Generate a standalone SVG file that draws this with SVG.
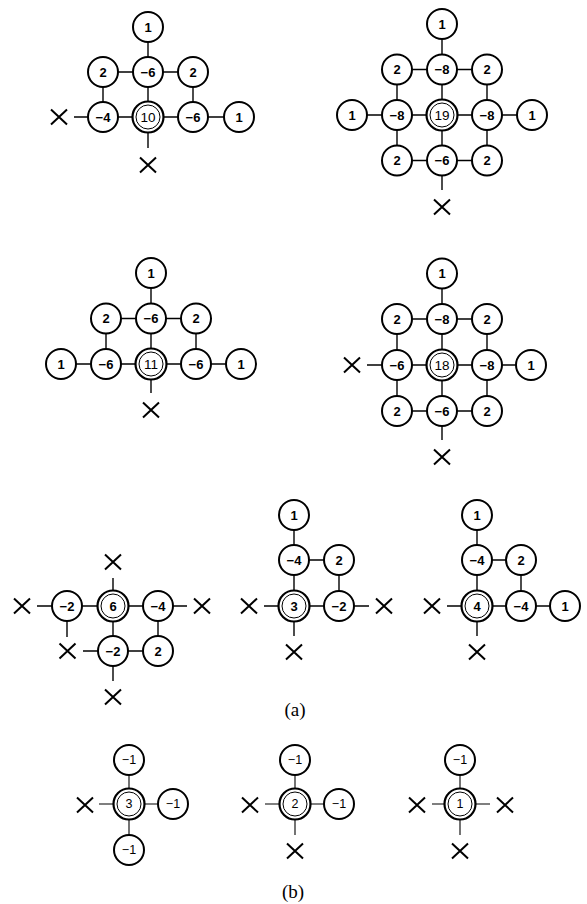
<svg xmlns="http://www.w3.org/2000/svg" xmlns:xlink="http://www.w3.org/1999/xlink" width="587" height="904" viewBox="0 0 587 904">
<style>
.e line{stroke:#000;stroke-width:1.4;fill:none}
.eb line{stroke:#000;stroke-width:1.1;fill:none}
circle.n{fill:#fff;stroke:#000;stroke-width:2}
circle.o{fill:#fff;stroke:#000;stroke-width:2.2}
circle.i{fill:none;stroke:#000;stroke-width:1}
.x{stroke:#000;stroke-width:2;fill:none}
text{font-family:"Liberation Sans",Arial,sans-serif;font-size:13px;font-weight:bold;text-anchor:middle;dominant-baseline:central;fill:#000}
text.c{font-weight:normal;font-size:13.5px}
text.b{font-size:12.5px;font-weight:normal}
text.cap{font-family:"Liberation Serif","Times New Roman",serif;font-size:19px;font-weight:normal}
</style>
<defs>
<path id="xm" class="x" d="M-8,-7.5L8,7.5M-8,7.5L8,-7.5"/>
</defs>
<g id="connectors">
<g class="e">
<!-- A1 -->
<line x1="148" y1="27" x2="148" y2="148"/>
<line x1="103" y1="72" x2="193" y2="72"/>
<line x1="103" y1="72" x2="103" y2="117"/>
<line x1="193" y1="72" x2="193" y2="117"/>
<line x1="74" y1="117" x2="239" y2="117"/>
<!-- A2 -->
<line x1="442" y1="24" x2="442" y2="190"/>
<line x1="397" y1="69.5" x2="487" y2="69.5"/>
<line x1="397" y1="69.5" x2="397" y2="160.5"/>
<line x1="487" y1="69.5" x2="487" y2="160.5"/>
<line x1="352" y1="115" x2="532" y2="115"/>
<line x1="397" y1="160.5" x2="487" y2="160.5"/>
<!-- A3 -->
<line x1="151" y1="273" x2="151" y2="393"/>
<line x1="106" y1="318.5" x2="196" y2="318.5"/>
<line x1="106" y1="318.5" x2="106" y2="364"/>
<line x1="196" y1="318.5" x2="196" y2="364"/>
<line x1="61" y1="364" x2="241" y2="364"/>
<!-- A4 -->
<line x1="442" y1="273.5" x2="442" y2="440"/>
<line x1="397" y1="319" x2="487" y2="319"/>
<line x1="397" y1="319" x2="397" y2="411"/>
<line x1="487" y1="319" x2="487" y2="411"/>
<line x1="367" y1="365" x2="531" y2="365"/>
<line x1="397" y1="411" x2="487" y2="411"/>
<!-- A5 -->
<line x1="113" y1="578" x2="113" y2="681"/>
<line x1="37" y1="606" x2="187" y2="606"/>
<line x1="67" y1="606" x2="67" y2="637"/>
<line x1="83" y1="651" x2="158" y2="651"/>
<line x1="158" y1="606" x2="158" y2="651"/>
<!-- A6 -->
<line x1="294" y1="515" x2="294" y2="636"/>
<line x1="294" y1="560" x2="339" y2="560"/>
<line x1="339" y1="560" x2="339" y2="606"/>
<line x1="264" y1="606" x2="369" y2="606"/>
<!-- A7 -->
<line x1="477" y1="515" x2="477" y2="636"/>
<line x1="477" y1="560" x2="521" y2="560"/>
<line x1="521" y1="560" x2="521" y2="606"/>
<line x1="447" y1="606" x2="565" y2="606"/>
</g>
<g class="eb">
<!-- B1 -->
<line x1="129" y1="760" x2="129" y2="850"/>
<line x1="99" y1="804" x2="173" y2="804"/>
<!-- B2 -->
<line x1="295" y1="760" x2="295" y2="835"/>
<line x1="265" y1="804" x2="339" y2="804"/>
<!-- B3 -->
<line x1="460" y1="760" x2="460" y2="835"/>
<line x1="432" y1="804" x2="490" y2="804"/>
</g>
</g>

<!-- Diagram A1 -->
<g id="a1">
<g id="a1-n1"><circle class="n" cx="148" cy="27" r="15"/><text x="148" y="27">1</text></g>
<g id="a1-n2"><circle class="n" cx="103" cy="72" r="15"/><text x="103" y="72">2</text></g>
<g id="a1-n3"><circle class="n" cx="148" cy="72" r="15"/><text x="148" y="72">−6</text></g>
<g id="a1-n4"><circle class="n" cx="193" cy="72" r="15"/><text x="193" y="72">2</text></g>
<g id="a1-x1"><use xlink:href="#xm" x="59" y="117"/></g>
<g id="a1-n5"><circle class="n" cx="103" cy="117" r="15"/><text x="103" y="117">−4</text></g>
<g id="a1-c"><circle class="o" cx="148" cy="117" r="15.5"/><circle class="i" cx="148" cy="117" r="12"/><text class="c" x="148" y="117">10</text></g>
<g id="a1-n6"><circle class="n" cx="193" cy="117" r="15"/><text x="193" y="117">−6</text></g>
<g id="a1-n7"><circle class="n" cx="239" cy="117" r="15"/><text x="239" y="117">1</text></g>
<g id="a1-x2"><use xlink:href="#xm" x="148" y="165"/></g>
</g>

<!-- Diagram A2 -->
<g id="a2">
<g id="a2-n1"><circle class="n" cx="442" cy="24" r="15"/><text x="442" y="24">1</text></g>
<g id="a2-n2"><circle class="n" cx="397" cy="69.5" r="15"/><text x="397" y="69.5">2</text></g>
<g id="a2-n3"><circle class="n" cx="442" cy="69.5" r="15"/><text x="442" y="69.5">−8</text></g>
<g id="a2-n4"><circle class="n" cx="487" cy="69.5" r="15"/><text x="487" y="69.5">2</text></g>
<g id="a2-n5"><circle class="n" cx="352" cy="115" r="15"/><text x="352" y="115">1</text></g>
<g id="a2-n6"><circle class="n" cx="397" cy="115" r="15"/><text x="397" y="115">−8</text></g>
<g id="a2-c"><circle class="o" cx="442" cy="115" r="15.5"/><circle class="i" cx="442" cy="115" r="12"/><text class="c" x="442" y="115">19</text></g>
<g id="a2-n7"><circle class="n" cx="487" cy="115" r="15"/><text x="487" y="115">−8</text></g>
<g id="a2-n8"><circle class="n" cx="532" cy="115" r="15"/><text x="532" y="115">1</text></g>
<g id="a2-n9"><circle class="n" cx="397" cy="160.5" r="15"/><text x="397" y="160.5">2</text></g>
<g id="a2-n10"><circle class="n" cx="442" cy="160.5" r="15"/><text x="442" y="160.5">−6</text></g>
<g id="a2-n11"><circle class="n" cx="487" cy="160.5" r="15"/><text x="487" y="160.5">2</text></g>
<g id="a2-x1"><use xlink:href="#xm" x="442" y="207"/></g>
</g>

<!-- Diagram A3 -->
<g id="a3">
<g id="a3-n1"><circle class="n" cx="151" cy="273" r="15"/><text x="151" y="273">1</text></g>
<g id="a3-n2"><circle class="n" cx="106" cy="318.5" r="15"/><text x="106" y="318.5">2</text></g>
<g id="a3-n3"><circle class="n" cx="151" cy="318.5" r="15"/><text x="151" y="318.5">−6</text></g>
<g id="a3-n4"><circle class="n" cx="196" cy="318.5" r="15"/><text x="196" y="318.5">2</text></g>
<g id="a3-n5"><circle class="n" cx="61" cy="364" r="15"/><text x="61" y="364">1</text></g>
<g id="a3-n6"><circle class="n" cx="106" cy="364" r="15"/><text x="106" y="364">−6</text></g>
<g id="a3-c"><circle class="o" cx="151" cy="364" r="15.5"/><circle class="i" cx="151" cy="364" r="12"/><text class="c" x="151" y="364">11</text></g>
<g id="a3-n7"><circle class="n" cx="196" cy="364" r="15"/><text x="196" y="364">−6</text></g>
<g id="a3-n8"><circle class="n" cx="241" cy="364" r="15"/><text x="241" y="364">1</text></g>
<g id="a3-x1"><use xlink:href="#xm" x="151" y="410"/></g>
</g>

<!-- Diagram A4 -->
<g id="a4">
<g id="a4-n1"><circle class="n" cx="442" cy="273.5" r="15"/><text x="442" y="273.5">1</text></g>
<g id="a4-n2"><circle class="n" cx="397" cy="319" r="15"/><text x="397" y="319">2</text></g>
<g id="a4-n3"><circle class="n" cx="442" cy="319" r="15"/><text x="442" y="319">−8</text></g>
<g id="a4-n4"><circle class="n" cx="487" cy="319" r="15"/><text x="487" y="319">2</text></g>
<g id="a4-x1"><use xlink:href="#xm" x="352" y="365"/></g>
<g id="a4-n5"><circle class="n" cx="397" cy="365" r="15"/><text x="397" y="365">−6</text></g>
<g id="a4-c"><circle class="o" cx="442" cy="365" r="15.5"/><circle class="i" cx="442" cy="365" r="12"/><text class="c" x="442" y="365">18</text></g>
<g id="a4-n6"><circle class="n" cx="487" cy="365" r="15"/><text x="487" y="365">−8</text></g>
<g id="a4-n7"><circle class="n" cx="531" cy="365" r="15"/><text x="531" y="365">1</text></g>
<g id="a4-n8"><circle class="n" cx="397" cy="411" r="15"/><text x="397" y="411">2</text></g>
<g id="a4-n9"><circle class="n" cx="442" cy="411" r="15"/><text x="442" y="411">−6</text></g>
<g id="a4-n10"><circle class="n" cx="487" cy="411" r="15"/><text x="487" y="411">2</text></g>
<g id="a4-x2"><use xlink:href="#xm" x="442" y="457"/></g>
</g>

<!-- Diagram A5 -->
<g id="a5">
<g id="a5-x1"><use xlink:href="#xm" x="113" y="562"/></g>
<g id="a5-x2"><use xlink:href="#xm" x="22" y="606"/></g>
<g id="a5-n1"><circle class="n" cx="67" cy="606" r="15"/><text x="67" y="606">−2</text></g>
<g id="a5-c"><circle class="o" cx="113" cy="606" r="15.5"/><circle class="i" cx="113" cy="606" r="12"/><text x="113" y="606">6</text></g>
<g id="a5-n2"><circle class="n" cx="158" cy="606" r="15"/><text x="158" y="606">−4</text></g>
<g id="a5-x3"><use xlink:href="#xm" x="202" y="606"/></g>
<g id="a5-x4"><use xlink:href="#xm" x="67.5" y="651"/></g>
<g id="a5-n3"><circle class="n" cx="113" cy="651" r="15"/><text x="113" y="651">−2</text></g>
<g id="a5-n4"><circle class="n" cx="158" cy="651" r="15"/><text x="158" y="651">2</text></g>
<g id="a5-x5"><use xlink:href="#xm" x="113" y="697"/></g>
</g>

<!-- Diagram A6 -->
<g id="a6">
<g id="a6-n1"><circle class="n" cx="294" cy="515" r="15"/><text x="294" y="515">1</text></g>
<g id="a6-n2"><circle class="n" cx="294" cy="560" r="15"/><text x="294" y="560">−4</text></g>
<g id="a6-n3"><circle class="n" cx="339" cy="560" r="15"/><text x="339" y="560">2</text></g>
<g id="a6-x1"><use xlink:href="#xm" x="249" y="606"/></g>
<g id="a6-c"><circle class="o" cx="294" cy="606" r="15.5"/><circle class="i" cx="294" cy="606" r="12"/><text x="294" y="606">3</text></g>
<g id="a6-n4"><circle class="n" cx="339" cy="606" r="15"/><text x="339" y="606">−2</text></g>
<g id="a6-x2"><use xlink:href="#xm" x="384" y="606"/></g>
<g id="a6-x3"><use xlink:href="#xm" x="294" y="652"/></g>
</g>

<!-- Diagram A7 -->
<g id="a7">
<g id="a7-n1"><circle class="n" cx="477" cy="515" r="15"/><text x="477" y="515">1</text></g>
<g id="a7-n2"><circle class="n" cx="477" cy="560" r="15"/><text x="477" y="560">−4</text></g>
<g id="a7-n3"><circle class="n" cx="521" cy="560" r="15"/><text x="521" y="560">2</text></g>
<g id="a7-x1"><use xlink:href="#xm" x="432" y="606"/></g>
<g id="a7-c"><circle class="o" cx="477" cy="606" r="15.5"/><circle class="i" cx="477" cy="606" r="12"/><text x="477" y="606">4</text></g>
<g id="a7-n4"><circle class="n" cx="521" cy="606" r="15"/><text x="521" y="606">−4</text></g>
<g id="a7-n5"><circle class="n" cx="565" cy="606" r="15"/><text x="565" y="606">1</text></g>
<g id="a7-x2"><use xlink:href="#xm" x="477" y="652"/></g>
</g>

<text class="cap" x="295" y="709">(a)</text>

<!-- Diagram B1 -->
<g id="b1">
<g id="b1-n1"><circle class="n" cx="129" cy="760" r="15"/><text class="b" x="129" y="760">−1</text></g>
<g id="b1-x1"><use xlink:href="#xm" x="85" y="805"/></g>
<g id="b1-c"><circle class="o" cx="129" cy="804" r="15.5"/><circle class="i" cx="129" cy="804" r="12"/><text class="b" x="129" y="804">3</text></g>
<g id="b1-n2"><circle class="n" cx="173" cy="804" r="15"/><text class="b" x="173" y="804">−1</text></g>
<g id="b1-n3"><circle class="n" cx="129" cy="850" r="15"/><text class="b" x="129" y="850">−1</text></g>
</g>

<!-- Diagram B2 -->
<g id="b2">
<g id="b2-n1"><circle class="n" cx="295" cy="760" r="15"/><text class="b" x="295" y="760">−1</text></g>
<g id="b2-x1"><use xlink:href="#xm" x="250" y="805"/></g>
<g id="b2-c"><circle class="o" cx="295" cy="804" r="15.5"/><circle class="i" cx="295" cy="804" r="12"/><text class="b" x="295" y="804">2</text></g>
<g id="b2-n2"><circle class="n" cx="339" cy="804" r="15"/><text class="b" x="339" y="804">−1</text></g>
<g id="b2-x2"><use xlink:href="#xm" x="295" y="851"/></g>
</g>

<!-- Diagram B3 -->
<g id="b3">
<g id="b3-n1"><circle class="n" cx="460" cy="760" r="15"/><text class="b" x="460" y="760">−1</text></g>
<g id="b3-x1"><use xlink:href="#xm" x="417" y="805"/></g>
<g id="b3-c"><circle class="o" cx="460" cy="804" r="15.5"/><circle class="i" cx="460" cy="804" r="12"/><text class="b" x="460" y="804">1</text></g>
<g id="b3-x2"><use xlink:href="#xm" x="505" y="805"/></g>
<g id="b3-x3"><use xlink:href="#xm" x="460" y="851"/></g>
</g>

<text class="cap" x="293" y="891">(b)</text>
</svg>
